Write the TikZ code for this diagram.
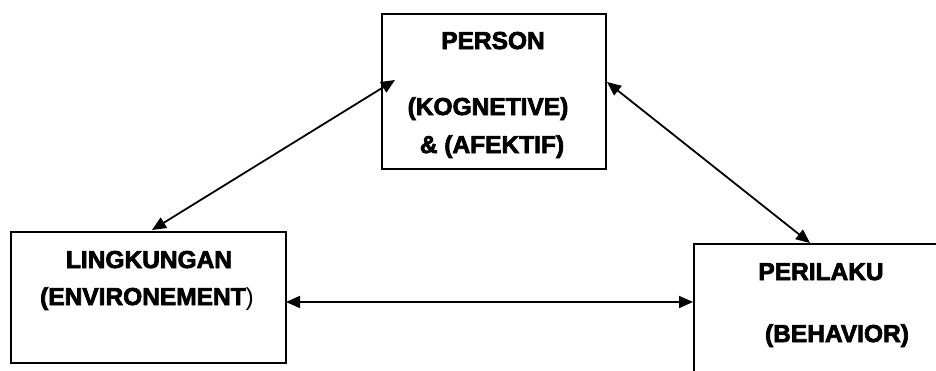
\documentclass[tikz,border=0pt]{standalone}
\usepackage{fontspec}
\setmainfont{Liberation Sans}
\newfontfamily\heavyfont[FakeBold=3]{Liberation Sans Bold}
\newfontfamily\thinfont{Liberation Sans}
\usetikzlibrary{arrows.meta}
\tikzset{
  box/.style={draw=black, line width=2bp, rectangle, inner sep=0pt, anchor=north west},
  lbl/.style={anchor=base, inner sep=0pt, font=\fontsize{24.5bp}{28bp}\heavyfont},
  conn/.style={line width=1.8bp, {Triangle[length=14bp,width=12bp]}-{Triangle[length=14bp,width=12bp]}}
}
\begin{document}
\begin{tikzpicture}[x=1bp,y=-1bp]
\path[use as bounding box, clip] (0,0) rectangle (936,370);
\fill[white] (0,0) rectangle (936,370);
% boxes
\node[box, minimum width=224bp, minimum height=155bp] (person) at (381,13) {};
\node[box, minimum width=275bp, minimum height=131bp] (ling) at (10,231) {};
\node[box, minimum width=260bp, minimum height=140bp] (peri) at (693,243) {};
% texts
\node[lbl] (p1) at (493,49) {PERSON};
\node[lbl] (p2) at (488,115) {(KOGNETIVE)};
\node[lbl] (p3) at (492,153) {\& (AFEKTIF)};
\node[lbl] (l1) at (149,268) {LINGKUNGAN};
\node[lbl] (l2) at (147,305) {(ENVIRONEMENT{\thinfont)}};
\node[lbl] (r1) at (821,280) {PERILAKU};
\node[lbl] (r2) at (837,342) {(BEHAVIOR)};
% connector ends
\coordinate (pa) at (395,80);
\coordinate (la) at (152,230);
\coordinate (pb) at (607,82);
\coordinate (rb) at (810,243);
\coordinate (lc) at (286,302);
\coordinate (rc) at (693,302);
\draw[conn] (la) -- (pa);
\draw[conn] (pb) -- (rb);
\draw[conn] (lc) -- (rc);
\end{tikzpicture}
\end{document}
